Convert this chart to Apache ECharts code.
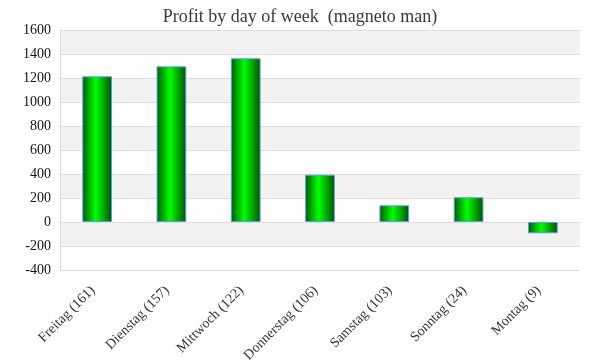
<!DOCTYPE html>
<html><head><meta charset="utf-8">
<script src="https://cdn.jsdelivr.net/npm/echarts@6/dist/echarts.min.js"></script>
<style>html,body{margin:0;padding:0;background:#fff}#c{width:600px;height:360px}</style>
</head><body><div id="c"></div>
<script>
var categories = ['Freitag (161)','Dienstag (157)','Mittwoch (122)','Donnerstag (106)','Samstag (103)','Sonntag (24)','Montag (9)'];
var profits = [1214, 1297, 1364, 394, 139, 206, -94];
var titleText = 'Profit by day of week  (magneto man)';
var font = "'Liberation Serif', serif";
var chart = echarts.init(document.getElementById('c'));
var grad = new echarts.graphic.LinearGradient(0,0,1,0,[
  {offset:0,color:'#005a00'},{offset:0.45,color:'#00ff00'},{offset:1,color:'#005000'}]);
chart.setOption({
  animation:false,
  title:{text:titleText,left:'center',top:3,textStyle:{fontFamily:font,fontWeight:'normal',fontSize:18,color:'#3a3a3a'}},
  grid:{left:60,right:20,top:30,bottom:90,containLabel:false,outerBoundsMode:'none'},
  xAxis:{type:'category',data:categories,
    axisLine:{show:false},axisTick:{show:false},
    axisLabel:{rotate:45,interval:0,margin:14,padding:[0,6,0,0],fontFamily:font,fontSize:14,color:'#333'}},
  yAxis:{type:'value',min:-400,max:1600,interval:200,
    axisLine:{show:true,lineStyle:{color:'#d9d9d9'}},axisTick:{show:false},
    axisLabel:{fontFamily:font,fontSize:14,color:'#111',margin:9,formatter:function(v){return String(v);}},
    splitLine:{lineStyle:{color:'#dedede'}},
    splitArea:{show:true,areaStyle:{color:['#ffffff','#f2f2f2']}}},
  series:[{type:'bar',data:profits,barWidth:'40%',
    itemStyle:{color:grad,borderColor:'#5b9bf0',borderWidth:1}}],
  graphic:[{type:'rect',shape:{x:579.5,y:30,width:0,height:240},style:{stroke:'#d9d9d9',lineWidth:1}}]
});
</script></body></html>
